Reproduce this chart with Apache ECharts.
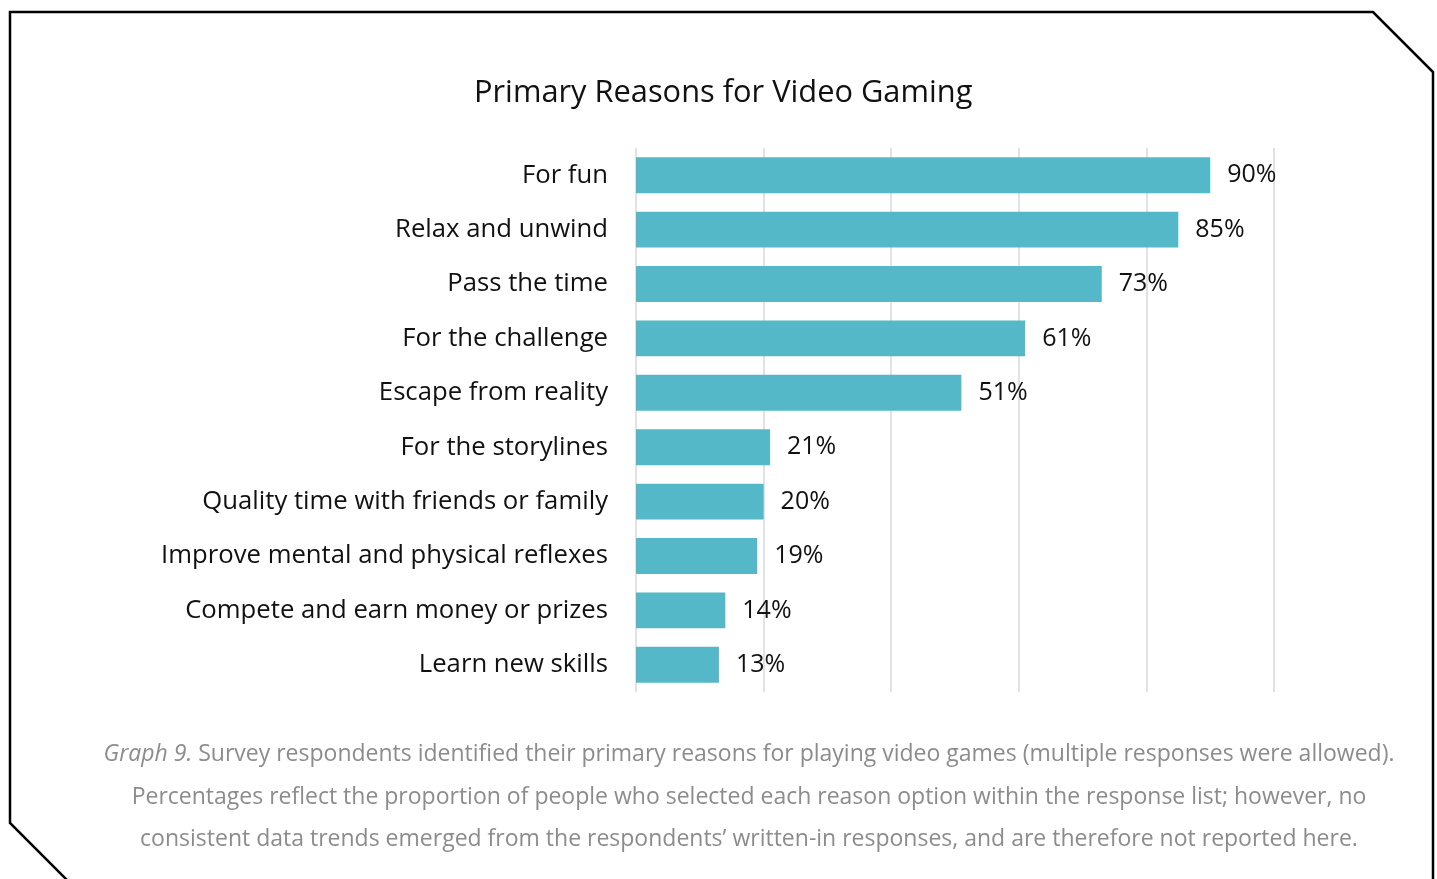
<!DOCTYPE html>
<html>
<head>
<meta charset="utf-8">
<script src="https://cdn.jsdelivr.net/npm/echarts@6/dist/echarts.min.js"></script>
<style>
  html, body { margin: 0; padding: 0; background: #fff; }
  #chart { width: 1437px; height: 879px; }
</style>
</head>
<body>
<div id="chart"></div>
<script>
// Survey reasons (top to bottom) and share of respondents, in percent
const reasons = [
  'For fun',
  'Relax and unwind',
  'Pass the time',
  'For the challenge',
  'Escape from reality',
  'For the storylines',
  'Quality time with friends or family',
  'Improve mental and physical reflexes',
  'Compete and earn money or prizes',
  'Learn new skills'
];
const shares = [90, 85, 73, 61, 51, 21, 20, 19, 14, 13];

const titleText = 'Primary Reasons for Video Gaming';
const captionLines = [
  'Survey respondents identified their primary reasons for playing video games (multiple responses were allowed).',
  'Percentages reflect the proportion of people who selected each reason option within the response list; however, no',
  'consistent data trends emerged from the respondents\u2019 written-in responses, and are therefore not reported here.'
];

const chart = echarts.init(document.getElementById('chart'));

const captionSize = 23;
const captionX = 749;
const captionStyle = { fontFamily: 'Open Sans', fontSize: captionSize, fill: '#8c8c8c', fontWeight: 'normal', align: 'center', verticalAlign: 'middle' };

chart.setOption({
  animation: false,
  backgroundColor: '#fff',
  title: {
    text: titleText,
    left: 469,
    top: 73,
    textStyle: { fontFamily: 'Open Sans', fontSize: 30.8, fontWeight: 'normal', color: '#111' }
  },
  grid: { left: 636, right: 163, top: 148, bottom: 187, containLabel: false },
  xAxis: {
    type: 'value',
    min: 0, max: 100, interval: 20,
    axisLine: { show: false },
    axisTick: { show: false },
    axisLabel: { show: false },
    splitLine: { show: true, lineStyle: { color: '#d9d9d9', width: 1.5 } }
  },
  yAxis: {
    type: 'category',
    inverse: true,
    data: reasons,
    axisLabel: { margin: 28, fontFamily: 'Open Sans', fontSize: 25.7, color: '#111' },
    axisLine: { show: false },
    axisTick: { show: false }
  },
  series: [{
    type: 'bar',
    data: shares,
    barCategoryGap: '34%',
    itemStyle: { color: '#55b8c8' },
    label: {
      show: true,
      position: 'right',
      distance: 17,
      formatter: p => p.value + '%',
      fontFamily: 'Open Sans', fontSize: 25, color: '#111'
    }
  }],
  graphic: [
    {
      type: 'polyline',
      shape: { points: [[68, 881], [10, 823], [10, 12], [1373, 12], [1433, 72], [1433, 881]] },
      style: { stroke: '#000', lineWidth: 2.5, fill: null }
    },
    {
      type: 'text', x: captionX, y: 754,
      style: Object.assign({
        text: '{i|Graph 9.} ' + captionLines[0],
        rich: { i: { fontStyle: 'italic', fontWeight: 'normal', fontFamily: 'Open Sans', fontSize: captionSize, color: '#8c8c8c' } }
      }, captionStyle)
    },
    { type: 'text', x: captionX, y: 797, style: Object.assign({ text: captionLines[1] }, captionStyle) },
    { type: 'text', x: captionX, y: 839, style: Object.assign({ text: captionLines[2] }, captionStyle) }
  ]
});
</script>
</body>
</html>
